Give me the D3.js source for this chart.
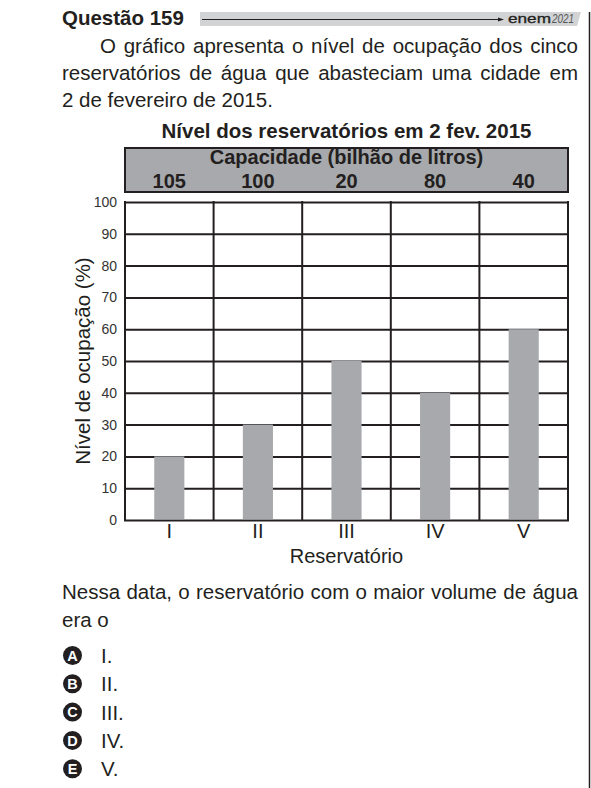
<!DOCTYPE html>
<html>
<head>
<meta charset="utf-8">
<script src="https://cdn.jsdelivr.net/npm/d3@7"></script>
<style>
  body { margin: 0; background: #fff; }
  svg { display: block; }
  text { font-family: "Liberation Sans", Arial, Helvetica, sans-serif; fill: #231f20; }
</style>
</head>
<body>
<div id="chart"></div>
<script>
/* dados do gráfico */
const reservatorios = ["I", "II", "III", "IV", "V"];
const capacidades = [105, 100, 20, 80, 40];
const niveis = [20, 30, 50, 40, 60];
const yTicks = [0, 10, 20, 30, 40, 50, 60, 70, 80, 90, 100];

/* textos da questão */
const enunciado = [
  "O gráfico apresenta o nível de ocupação dos cinco",
  "reservatórios de água que abasteciam uma cidade em",
  "2 de fevereiro de 2015."
];
const pergunta = [
  "Nessa data, o reservatório com o maior volume de água",
  "era o"
];
const letras = ["A", "B", "C", "D", "E"];
const alternativas = ["I.", "II.", "III.", "IV.", "V."];

const W = 591, H = 788;
const INK = "#231f20";
const GREY = "#a7a9ac";

const svg = d3.select("#chart").append("svg")
  .attr("width", W)
  .attr("height", H);

// espalha as palavras de uma linha até a largura pedida (texto justificado)
function justify(sel, width) {
  sel.each(function () {
    const t = d3.select(this);
    const len = this.getComputedTextLength();
    const gaps = (t.text().match(/ /g) || []).length;
    if (gaps) t.attr("word-spacing", (width - len) / gaps);
  });
}

/* ---------- cabeçalho ---------- */
svg.append("text")
  .attr("x", 62).attr("y", 25)
  .attr("font-size", 20.5).attr("font-weight", "bold")
  .text("Questão 159");

svg.append("path")
  .attr("d", "M200,12 H581 L577,26 H200 Z")
  .attr("fill", "#d1d3d4");

svg.append("line")
  .attr("x1", 202).attr("x2", 502)
  .attr("y1", 19.5).attr("y2", 19.5)
  .attr("stroke", INK).attr("stroke-width", 1);

svg.append("path")
  .attr("d", "M498,17.5 L504,19.5 L498,21.5 Z")
  .attr("fill", INK);

svg.append("text")
  .attr("x", 508).attr("y", 23)
  .attr("font-size", 13)
  .attr("textLength", 43).attr("lengthAdjust", "spacingAndGlyphs")
  .style("stroke", INK).style("stroke-width", 0.3)
  .text("enem");

svg.append("text")
  .attr("x", 552).attr("y", 23)
  .attr("font-size", 12).attr("font-style", "italic")
  .attr("textLength", 22).attr("lengthAdjust", "spacingAndGlyphs")
  .style("fill", "#555")
  .text("2021");

// linha vertical da coluna à direita
svg.append("line")
  .attr("x1", 589.5).attr("x2", 589.5)
  .attr("y1", 12).attr("y2", H)
  .attr("stroke", INK).attr("stroke-width", 1.5);

/* ---------- enunciado ---------- */
const enunX = [100, 62, 62];
const enunY = [53, 80, 107];
const enun = svg.selectAll("text.enun")
  .data(enunciado)
  .enter().append("text")
  .attr("class", "enun")
  .attr("x", (d, i) => enunX[i])
  .attr("y", (d, i) => enunY[i])
  .attr("font-size", 20.5)
  .text(d => d);
enun.filter((d, i) => i < 2).each(function (d, i) {
  justify(d3.select(this), 578 - enunX[i]);
});

/* ---------- gráfico ---------- */
const plotLeft = 125, plotRight = 568, plotTop = 202, plotBottom = 520;

const xGrid = d3.scaleBand().domain(reservatorios).range([plotLeft, plotRight]);
const x = d3.scaleBand().domain(reservatorios).range([plotLeft, plotRight])
  .paddingInner(0.66).paddingOuter(0.33);
const y = d3.scaleLinear().domain([0, 100]).range([plotBottom, plotTop]);

svg.append("text")
  .attr("x", (plotLeft + plotRight) / 2).attr("y", 138)
  .attr("text-anchor", "middle")
  .attr("font-size", 20.5).attr("font-weight", "bold")
  .text("Nível dos reservatórios em 2 fev. 2015");

// caixa de capacidades
svg.append("rect")
  .attr("x", plotLeft).attr("y", 148)
  .attr("width", plotRight - plotLeft).attr("height", 44)
  .attr("fill", GREY)
  .attr("stroke", INK).attr("stroke-width", 2);

svg.append("text")
  .attr("x", (plotLeft + plotRight) / 2).attr("y", 164)
  .attr("text-anchor", "middle")
  .attr("font-size", 20).attr("font-weight", "bold")
  .text("Capacidade (bilhão de litros)");

svg.selectAll("text.cap")
  .data(capacidades)
  .enter().append("text")
  .attr("class", "cap")
  .attr("x", (d, i) => xGrid(reservatorios[i]) + xGrid.bandwidth() / 2)
  .attr("y", 188)
  .attr("text-anchor", "middle")
  .attr("font-size", 20).attr("font-weight", "bold")
  .text(d => d);

// eixo y com a grade horizontal
const yAxis = svg.append("g")
  .attr("transform", `translate(${plotLeft},0)`)
  .call(d3.axisLeft(y).tickValues(yTicks).tickSize(-(plotRight - plotLeft)).tickPadding(8));
yAxis.select(".domain").remove();
yAxis.selectAll("line")
  .attr("stroke", INK).attr("stroke-width", 2).attr("stroke-linecap", "square");
yAxis.selectAll("text")
  .attr("font-size", 14)
  .attr("font-family", "\"Liberation Sans\", Arial, sans-serif")
  .style("fill", "#333");

// grade vertical
const bordas = reservatorios.map(r => xGrid(r)).concat([plotRight]);
svg.selectAll("line.vgrid")
  .data(bordas)
  .enter().append("line")
  .attr("class", "vgrid")
  .attr("x1", d => d).attr("x2", d => d)
  .attr("y1", plotTop).attr("y2", plotBottom)
  .attr("stroke", INK).attr("stroke-width", 2).attr("stroke-linecap", "square");

// barras
svg.selectAll("rect.bar")
  .data(niveis)
  .enter().append("rect")
  .attr("class", "bar")
  .attr("x", (d, i) => x(reservatorios[i]))
  .attr("width", x.bandwidth())
  .attr("y", d => y(d))
  .attr("height", d => y(0) - y(d) - 1)
  .attr("fill", GREY);

// eixo x
const xAxis = svg.append("g")
  .attr("transform", `translate(0,${plotBottom})`)
  .call(d3.axisBottom(xGrid).tickSize(0).tickPadding(4));
xAxis.select(".domain").remove();
xAxis.selectAll("text")
  .attr("font-size", 20)
  .attr("font-family", "\"Liberation Sans\", Arial, sans-serif");

svg.append("text")
  .attr("x", (plotLeft + plotRight) / 2).attr("y", 563)
  .attr("text-anchor", "middle")
  .attr("font-size", 20)
  .text("Reservatório");

svg.append("text")
  .attr("transform", `translate(90,${(plotTop + plotBottom) / 2}) rotate(-90)`)
  .attr("text-anchor", "middle")
  .attr("font-size", 20.5)
  .text("Nível de ocupação (%)");

/* ---------- pergunta e alternativas ---------- */
const perg = svg.selectAll("text.perg")
  .data(pergunta)
  .enter().append("text")
  .attr("class", "perg")
  .attr("x", 62)
  .attr("y", (d, i) => 599 + i * 28)
  .attr("font-size", 20.5)
  .text(d => d);
justify(perg.filter((d, i) => i === 0), 578 - 62);

const alt = svg.selectAll("g.alt")
  .data(alternativas)
  .enter().append("g")
  .attr("class", "alt")
  .attr("transform", (d, i) => `translate(0,${663 + i * 28.3})`);

alt.append("circle")
  .attr("cx", 72.5).attr("cy", -7.5).attr("r", 9.5)
  .attr("fill", INK);

alt.append("text")
  .attr("x", 72.5).attr("y", -2.3)
  .attr("text-anchor", "middle")
  .attr("font-size", 14.5).attr("font-weight", "bold")
  .style("fill", "#fff")
  .text((d, i) => letras[i]);

alt.append("text")
  .attr("x", 101).attr("y", 0)
  .attr("font-size", 20.5)
  .text(d => d);
</script>
</body>
</html>
